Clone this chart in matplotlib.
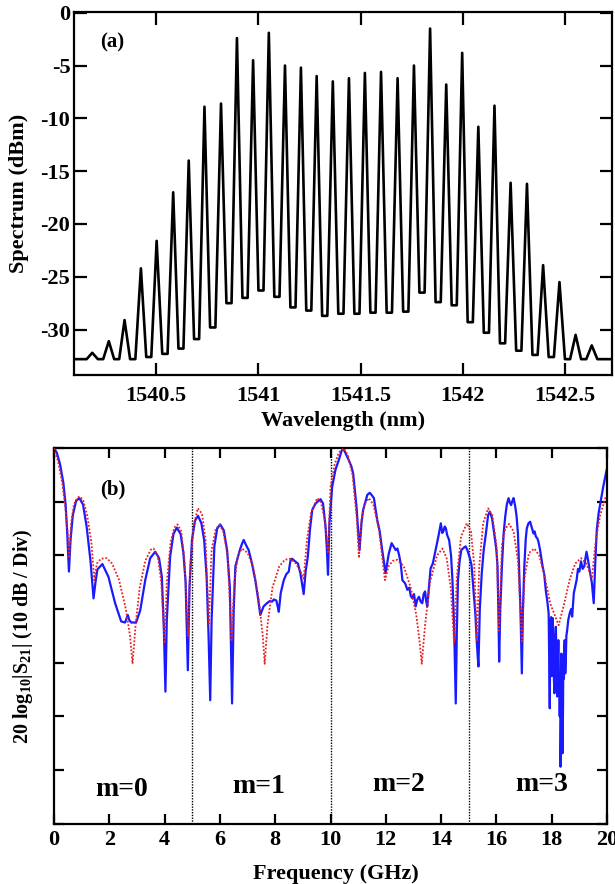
"""Two-panel figure: optical comb spectrum (a) and RF filter response S21 (b)."""
import numpy as np
import matplotlib
matplotlib.use("Agg")
import matplotlib.pyplot as plt

plt.rcParams.update({
    "font.family": "Liberation Serif",
    "font.weight": "bold",
    "axes.labelweight": "bold",
    "axes.unicode_minus": False,
    "mathtext.fontset": "custom",
    "mathtext.rm": "Liberation Serif:bold",
    "mathtext.it": "Liberation Serif:bold",
    "mathtext.bf": "Liberation Serif:bold",
})

# ---- (a) comb lines: peak wavelength (nm) and peak power (dBm)
peak_wl = [1540.187, 1540.268, 1540.345, 1540.425, 1540.502, 1540.583, 1540.659,
           1540.736, 1540.817, 1540.895, 1540.974, 1541.051, 1541.130, 1541.208,
           1541.285, 1541.364, 1541.443, 1541.521, 1541.600, 1541.681, 1541.761,
           1541.840, 1541.919, 1541.997, 1542.076, 1542.155, 1542.234, 1542.314,
           1542.393, 1542.473, 1542.552, 1542.631]
peak_db = [-32.2, -31.1, -29.1, -24.2, -21.6, -17.0, -14.0, -8.9, -8.6, -2.4, -4.5,
           -1.9, -5.0, -5.2, -6.0, -6.5, -6.2, -5.7, -5.6, -6.2, -5.0, -1.5, -6.8,
           -3.8, -10.8, -8.8, -16.1, -16.2, -23.9, -25.5, -30.5, -31.5]
# floor level between neighbouring lines
valley_db = [-32.8, -32.8, -32.8, -32.6, -32.3, -31.8, -30.9, -29.8, -27.5, -27.0,
             -26.3, -26.9, -27.9, -28.2, -28.7, -28.5, -28.5, -28.4, -28.4, -28.3,
             -26.5, -27.4, -27.7, -29.3, -30.3, -31.3, -32.0, -32.4, -32.6, -32.8,
             -32.8]
floor_wl = [1540.10, 1542.73]
floor_db = -32.8

# ---- (b) S21 response: simulation (red dotted) and measurement (blue)
sim_f = [0.00, 0.15, 0.30, 0.42, 0.50, 0.55, 0.62, 0.72, 0.85, 0.92, 1.05, 1.20, 1.35,
         1.46, 1.55, 1.70, 1.91, 2.10, 2.35, 2.60, 2.75, 2.84, 2.95, 3.10, 3.30, 3.50,
         3.60, 3.75, 3.88, 4.00, 4.08, 4.22, 4.35, 4.47, 4.60, 4.72, 4.85, 4.93, 5.05,
         5.20, 5.35, 5.48, 5.60, 5.70, 5.85, 5.99, 6.12, 6.28, 6.42, 6.52, 6.65, 6.80,
         7.00, 7.20, 7.40, 7.55, 7.62, 7.72, 7.90, 8.15, 8.35, 8.55, 8.75, 8.92, 9.03,
         9.15, 9.30, 9.52, 9.65, 9.80, 9.91, 10.00, 10.15, 10.30, 10.48, 10.62, 10.80,
         10.95, 11.03, 11.10, 11.22, 11.39, 11.55, 11.75, 11.97, 12.10, 12.25, 12.42,
         12.65, 12.90, 13.10, 13.22, 13.30, 13.42, 13.60, 13.85, 14.05, 14.20, 14.35,
         14.47, 14.57, 14.72, 14.93, 15.08, 15.20, 15.29, 15.38, 15.52, 15.70, 15.85,
         16.00, 16.10, 16.20, 16.32, 16.46, 16.62, 16.78, 16.92, 17.02, 17.18, 17.37,
         17.55, 17.75, 17.95, 18.25, 18.45, 18.65, 18.85, 19.06, 19.25, 19.45, 19.60,
         19.75, 19.94, 20.00]
sim_db = [0.0, -2.5, -6.5, -11.5, -16.0, -20.5, -14.0, -10.5, -9.2, -9.0, -9.6, -12.5,
          -17.5, -24.6, -21.5, -20.6, -20.5, -21.5, -24.5, -30.0, -35.0, -40.2, -33.0,
          -26.0, -21.0, -18.9, -18.7, -20.0, -25.0, -36.4, -25.0, -17.5, -14.8, -14.2,
          -15.5, -21.0, -35.0, -22.0, -14.5, -11.2, -12.2, -17.0, -33.0, -19.0, -15.0,
          -14.3, -15.5, -20.0, -36.0, -25.0, -20.0, -18.7, -19.5, -22.0, -28.0, -35.0,
          -40.2, -33.0, -26.0, -22.0, -20.8, -20.6, -21.5, -23.0, -24.3, -17.0, -12.0,
          -9.3, -10.0, -13.5, -19.6, -7.2, -3.0, -0.8, 0.0, -1.2, -5.0, -13.0, -20.5,
          -14.0, -10.5, -9.3, -10.5, -15.0, -24.6, -22.0, -21.0, -20.8, -22.0, -26.0,
          -31.0, -36.0, -40.2, -33.0, -25.0, -20.0, -18.7, -20.5, -26.0, -36.4, -24.0,
          -16.5, -14.0, -15.5, -22.0, -35.8, -22.0, -14.0, -11.2, -12.5, -18.0, -34.0,
          -18.0, -15.0, -14.1, -15.5, -21.0, -36.0, -24.0, -19.5, -18.7, -20.0, -24.0,
          -29.0, -33.0, -29.0, -24.5, -21.5, -20.5, -21.5, -24.3, -17.0, -12.5, -9.3,
          -9.0]

meas_f = [0.00, 0.10, 0.22, 0.34, 0.42, 0.48, 0.54, 0.60, 0.68, 0.80, 0.92, 1.05, 1.18,
          1.32, 1.43, 1.50, 1.57, 1.75, 1.97, 2.21, 2.43, 2.57, 2.67, 2.72, 2.79, 2.97,
          3.12, 3.30, 3.48, 3.66, 3.80, 3.90, 3.97, 4.03, 4.08, 4.20, 4.32, 4.44, 4.58,
          4.68, 4.76, 4.84, 4.90, 4.99, 5.10, 5.21, 5.33, 5.43, 5.52, 5.59, 5.65, 5.70,
          5.80, 5.90, 6.01, 6.14, 6.26, 6.36, 6.44, 6.50, 6.56, 6.72, 6.80, 6.86, 6.94,
          7.04, 7.16, 7.28, 7.38, 7.46, 7.58, 7.70, 7.80, 7.89, 7.95, 8.04, 8.09, 8.13,
          8.20, 8.31, 8.40, 8.49, 8.55, 8.61, 8.70, 8.82, 8.91, 9.03, 9.10, 9.18, 9.26,
          9.34, 9.45, 9.52, 9.58, 9.64, 9.73, 9.82, 9.87, 9.91, 9.96, 10.06, 10.18, 10.30,
          10.40, 10.46, 10.55, 10.66, 10.75, 10.82, 10.94, 11.05, 11.12, 11.18, 11.33,
          11.42, 11.50, 11.57, 11.69, 11.78, 11.87, 11.99, 12.11, 12.21, 12.30, 12.36,
          12.42, 12.48, 12.54, 12.60, 12.70, 12.78, 12.85, 12.90, 12.96, 13.02, 13.08,
          13.14, 13.20, 13.26, 13.32, 13.37, 13.42, 13.46, 13.50, 13.56, 13.62, 13.70,
          13.80, 13.90, 13.99, 14.04, 14.08, 14.13, 14.17, 14.22, 14.29, 14.36, 14.41,
          14.47, 14.53, 14.57, 14.61, 14.67, 14.73, 14.83, 14.89, 14.95, 15.04, 15.10,
          15.16, 15.24, 15.30, 15.35, 15.40, 15.47, 15.54, 15.62, 15.70, 15.76, 15.84,
          15.92, 16.00, 16.04, 16.07, 16.10, 16.14, 16.20, 16.26, 16.32, 16.38, 16.44,
          16.49, 16.53, 16.58, 16.62, 16.68, 16.73, 16.78, 16.82, 16.87, 16.92, 16.96,
          17.01, 17.06, 17.10, 17.16, 17.22, 17.28, 17.34, 17.38, 17.43, 17.48, 17.52,
          17.58, 17.67, 17.73, 17.79, 17.84, 17.89, 17.91, 17.93, 17.95, 17.98, 18.00,
          18.02, 18.04, 18.06, 18.08, 18.10, 18.12, 18.15, 18.17, 18.20, 18.22, 18.24,
          18.26, 18.29, 18.31, 18.32, 18.34, 18.35, 18.37, 18.39, 18.41, 18.42, 18.44,
          18.46, 18.47, 18.49, 18.51, 18.53, 18.56, 18.60, 18.65, 18.70, 18.74, 18.80,
          18.86, 18.90, 18.95, 19.00, 19.06, 19.12, 19.18, 19.22, 19.26, 19.32, 19.38,
          19.45, 19.52, 19.57, 19.63, 19.70, 19.78, 19.87, 19.96, 20.00]
meas_db = [0.0, -0.8, -3.0, -6.5, -10.5, -16.0, -23.0, -17.0, -12.5, -9.8, -9.3, -10.5,
           -14.6, -21.0, -28.0, -25.0, -22.6, -21.6, -24.0, -28.9, -32.3, -32.5, -31.1,
           -32.0, -32.5, -32.5, -30.2, -24.6, -20.5, -19.3, -20.5, -24.0, -33.0, -45.4,
           -32.0, -20.2, -16.0, -14.8, -16.0, -19.5, -25.0, -41.4, -26.0, -17.1, -13.5,
           -12.6, -14.0, -17.1, -24.0, -35.0, -47.0, -32.0, -18.3, -15.0, -14.2, -15.3,
           -19.0, -26.0, -47.6, -30.0, -22.0, -19.0, -17.8, -17.1, -18.0, -19.0, -21.5,
           -24.6, -28.0, -31.1, -29.5, -28.9, -28.5, -28.6, -28.2, -28.4, -29.5, -30.5,
           -27.0, -24.6, -23.5, -23.0, -21.0, -20.6, -21.0, -21.5, -23.3, -27.2, -23.0,
           -20.2, -15.0, -11.5, -10.4, -10.0, -9.8, -9.5, -10.3, -14.6, -19.0, -23.6,
           -14.0, -7.2, -4.0, -2.2, -0.5, 0.0, -1.0, -2.2, -3.3, -4.7, -10.9, -19.0,
           -14.0, -11.5, -8.7, -8.3, -8.8, -9.3, -13.4, -15.5, -19.0, -23.3, -19.6,
           -17.7, -18.5, -19.0, -18.7, -19.9, -21.5, -24.6, -25.2, -26.4, -26.0, -27.5,
           -28.0, -27.2, -29.5, -28.2, -27.7, -28.6, -28.9, -27.2, -26.7, -28.5, -29.5,
           -26.0, -22.4, -21.5, -19.0, -16.5, -14.0, -15.8, -15.5, -14.6, -14.9, -16.2,
           -17.1, -20.0, -24.6, -33.0, -47.6, -34.0, -24.6, -21.0, -19.0, -18.5, -18.3,
           -19.0, -20.5, -21.8, -25.8, -31.0, -37.0, -40.7, -30.0, -23.3, -19.0, -15.9,
           -12.5, -11.8, -13.0, -15.9, -19.0, -22.0, -30.0, -39.8, -30.0, -22.0, -16.0,
           -12.7, -10.4, -9.3, -10.2, -10.6, -9.8, -9.3, -10.8, -12.7, -16.0, -22.0,
           -30.0, -42.0, -30.0, -22.0, -17.0, -14.9, -14.0, -13.7, -14.8, -15.9, -15.5,
           -16.5, -16.8, -17.4, -19.0, -22.0, -23.5, -26.7, -28.5, -30.8, -40.0, -48.5,
           -33.0, -31.5, -42.5, -34.0, -31.7, -38.0, -43.0, -45.7, -36.0, -33.3, -38.0,
           -46.3, -40.0, -35.8, -42.0, -50.0, -45.0, -59.4, -50.0, -38.3, -46.0, -56.9,
           -48.0, -38.9, -43.0, -37.0, -35.8, -42.0, -39.5, -35.0, -33.9, -32.0, -30.8,
           -30.0, -31.4, -27.0, -25.5, -24.6, -22.5, -23.0, -21.1, -22.5, -22.0, -20.5,
           -19.3, -21.0, -23.0, -25.0, -28.9, -22.0, -15.2, -12.0, -9.6, -7.0, -4.7,
           -3.8]

band_edges = [5, 10, 15]
band_labels = ["m=0", "m=1", "m=2", "m=3"]
band_label_f = [2.45, 7.40, 12.48, 17.64]
band_label_db = [-63.6, -63.1, -62.8, -62.8]


def comb_trace(wl, pk, vy, edge_wl, edge_db):
    """Polyline through each line peak with a flat floor segment in every gap."""
    xs, ys = [edge_wl[0]], [edge_db]
    for i in range(len(wl)):
        xs.append(wl[i])
        ys.append(pk[i])
        if i < len(vy):
            gap = wl[i + 1] - wl[i]
            xs += [wl[i] + 0.34 * gap, wl[i] + 0.66 * gap]
            ys += [vy[i], vy[i]]
    first_gap = wl[1] - wl[0]
    xs.insert(1, wl[0] - 0.34 * first_gap)
    ys.insert(1, edge_db)
    xs += [wl[-1] + 0.34 * first_gap, edge_wl[1]]
    ys += [edge_db, edge_db]
    return np.array(xs), np.array(ys)


fig = plt.figure(figsize=(6.15, 8.84), dpi=100)
ax1 = fig.add_axes([0.1211, 0.5758, 0.8740, 0.4110])
ax2 = fig.add_axes([0.0878, 0.0684, 0.8992, 0.4245])

for ax in (ax1, ax2):
    for sp in ax.spines.values():
        sp.set_linewidth(1.6)

# (a) optical spectrum
wl, db = comb_trace(peak_wl, peak_db, valley_db, floor_wl, floor_db)
ax1.plot(wl, db, color="black", lw=1.9, solid_joinstyle="round")
ax1.set_xlim(1540.10, 1542.73)
ax1.set_ylim(-34.3, 0.1)
ax1.set_xticks([1540.5, 1541, 1541.5, 1542, 1542.5])
ax1.set_xticklabels(["1540.5", "1541", "1541.5", "1542", "1542.5"])
ax1.set_yticks([0, -5, -10, -15, -20, -25, -30])
ax1.set_yticklabels(["0", "-5", "-10", "-15", "-20", "-25", "-30"])
ax1.tick_params(axis="both", direction="in", length=9, width=1.6, labelsize=16,
                top=True, right=True)
ax1.tick_params(axis="x", pad=8)
ax1.tick_params(axis="y", pad=3)
ax1.set_xlabel("Wavelength (nm)", fontsize=16)
ax1.set_ylabel("Spectrum (dBm)", fontsize=16)
ax1.xaxis.set_label_coords(0.50, -0.100)
ax1.yaxis.set_label_coords(-0.085, 0.50)
ax1.text(1540.284, -2.85, "(a)", fontsize=15, ha="center", va="center")

# (b) RF response
for f in band_edges:
    ax2.axvline(f, color="black", ls=(0, (1, 1)), lw=1.0, zorder=1)
ax2.plot(meas_f, meas_db, color="#1a1aff", lw=1.6, zorder=2)
ax2.plot(sim_f, sim_db, color="#e82020", lw=1.3, ls=(0, (1, 1)), zorder=3)
for lab, f, d in zip(band_labels, band_label_f, band_label_db):
    ax2.text(f, d, lab, fontsize=20, ha="center", va="center")
ax2.text(2.14, -7.65, "(b)", fontsize=15, ha="center", va="center")
ax2.set_xlim(0, 20)
ax2.set_ylim(-70, 0)
ax2.set_xticks(np.arange(0, 21, 2))
ax2.set_yticks(np.arange(-70, 1, 10))
ax2.set_yticklabels([])
ax2.tick_params(axis="both", direction="in", length=7, width=1.6, labelsize=16,
                top=True, right=True)
ax2.tick_params(axis="x", pad=5)
ax2.set_xlabel("Frequency (GHz)", fontsize=16)
ax2.set_ylabel(r"20 log$_{10}$|S$_{21}$| (10 dB / Div)", fontsize=14.5)
ax2.xaxis.set_label_coords(0.51, -0.108)
ax2.yaxis.set_label_coords(-0.035, 0.50)

fig.savefig("out.png", dpi=100)
plt.close(fig)
